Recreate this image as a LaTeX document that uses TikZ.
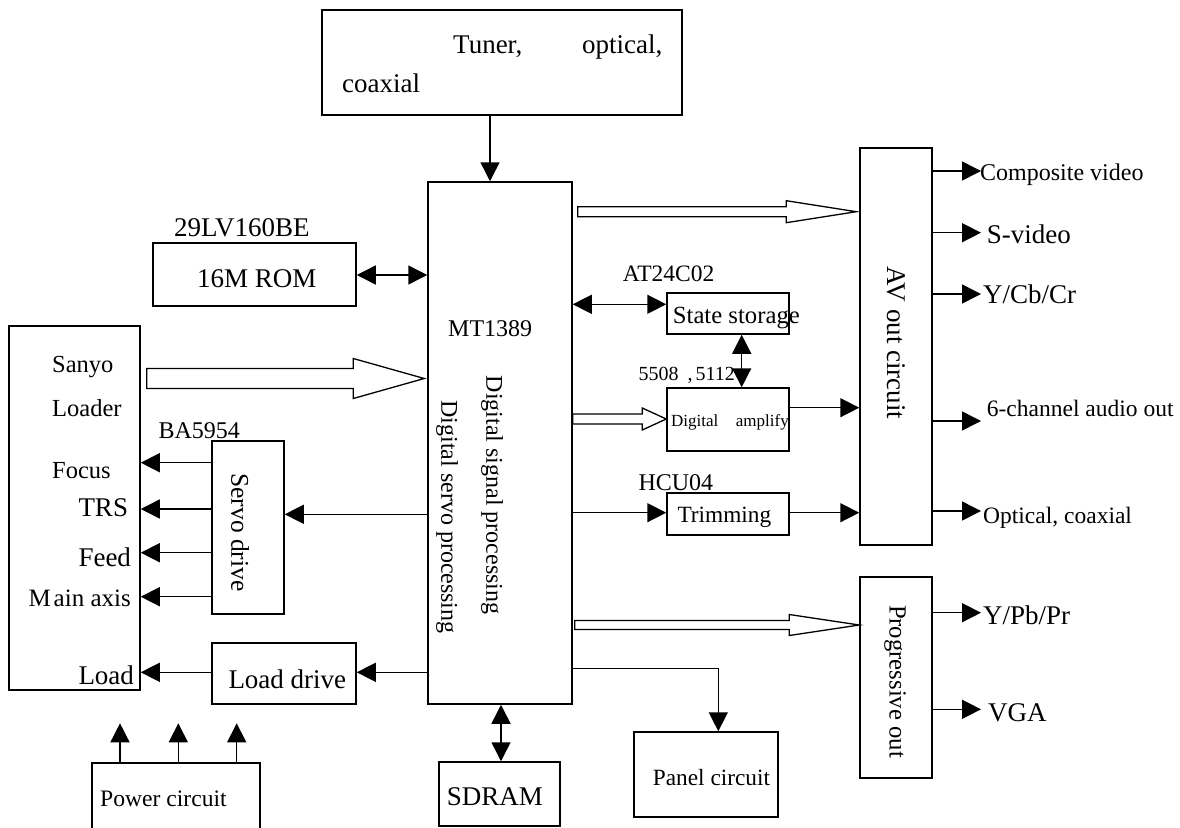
\documentclass[tikz,border=0pt]{standalone}
\usepackage{fontspec}
\setmainfont{Liberation Serif}
\usetikzlibrary{arrows.meta,calc}
\newcommand\fs[1]{\fontsize{#1}{#1}\selectfont}
% wide hollow arrow: start, tip, shaft half-width, head length, head half-width
\newcommand\hollowarrow[5]{%
  \draw[hollow] let \p1=(#1), \p2=(#2) in
    (\x1,\y1+#3pt) -- (\x2-#4pt,\y1+#3pt) -- (\x2-#4pt,\y1+#5pt) -- (\x2,\y1)
    -- (\x2-#4pt,\y1-#5pt) -- (\x2-#4pt,\y1-#3pt) -- (\x1,\y1-#3pt) -- cycle;}
\begin{document}
\begin{tikzpicture}[x=1pt,y=-1pt,
  box/.style={draw,line width=1.5pt,inner sep=0pt},
  txt/.style={inner sep=0pt,anchor=base west},
  vtxt/.style={inner sep=0pt,rotate=-90},
  arr/.style={line width=1.5pt,-{Triangle[length=19pt,width=19pt]}},
  darr/.style={line width=1.5pt,{Triangle[length=19pt,width=19pt]}-{Triangle[length=19pt,width=19pt]}},
  hollow/.style={draw,fill=white,line width=1.3pt,line join=miter}]
\useasboundingbox (0,0) rectangle (1180,827);
\fill[white] (0,0) rectangle (1180,827);
\clip (0,0) rectangle (1180,827);

% blocks
\node[box,minimum width=360pt,minimum height=105pt] (tuner) at (502,62.5) {};
\node[box,minimum width=144pt,minimum height=522pt] (mt) at (500,443) {};
\node[box,minimum width=203pt,minimum height=63pt] (rom) at (254.5,274.5) {};
\node[box,minimum width=131pt,minimum height=364pt] (sanyo) at (74.5,508) {};
\node[box,minimum width=72pt,minimum height=173pt] (servo) at (248,527.5) {};
\node[box,minimum width=144pt,minimum height=61pt] (ldrive) at (284,673.5) {};
\node[box,minimum width=168pt,minimum height=100pt] (power) at (176,813) {};
\node[box,minimum width=121pt,minimum height=64pt] (sdram) at (499.5,794) {};
\node[box,minimum width=144pt,minimum height=85pt] (panel) at (706,774.5) {};
\node[box,minimum width=122pt,minimum height=41pt] (state) at (728,313.5) {};
\node[box,minimum width=122pt,minimum height=63pt] (amp) at (728,419.5) {};
\node[box,minimum width=122pt,minimum height=42pt] (trim) at (728,514) {};
\node[box,minimum width=72pt,minimum height=397pt] (av) at (896,346.5) {};
\node[box,minimum width=72pt,minimum height=201pt] (prog) at (896,677.5) {};

% block texts
\node[txt,font=\fs{27}] (tuA) at (453,53) {Tuner,};
\node[txt,font=\fs{27}] (tuB) at (582,53) {optical,};
\node[txt,font=\fs{27}] (tuC) at (342,92) {coaxial};
\node[txt,font=\fs{24}] (mtname) at (448,336) {MT1389};
\node[vtxt,font=\fs{24}] (dsp) at (492,495) {Digital signal processing};
\node[vtxt,font=\fs{24}] (dservo) at (447,517) {Digital servo processing};
\node[txt,font=\fs{27}] (romtxt) at (197,287) {16M ROM};
\node[txt,font=\fs{27}] (romchip) at (174,236) {29LV160BE};
\node[txt,font=\fs{24.5}] (sa) at (52,372.7) {Sanyo};
\node[txt,font=\fs{24.5}] (lo) at (52,416.7) {Loader};
\node[txt,font=\fs{24.5}] (fo) at (52,478.3) {Focus};
\node[txt,font=\fs{27}] (trs) at (78.3,516.7) {TRS};
\node[txt,font=\fs{27}] (fe) at (78.3,566.7) {Feed};
\node[txt,font=\fs{25}] (ma) at (28.3,606.7) {M\kern3pt ain axis};
\node[txt,font=\fs{27}] (ld) at (78.3,684.3) {Load};
\node[txt,font=\fs{24}] (ba) at (158.3,438.3) {BA5954};
\node[vtxt,font=\fs{25.5}] (sdv) at (240,532.5) {Servo drive};
\node[txt,font=\fs{27}] (ldt) at (228.3,688.3) {Load drive};
\node[txt,font=\fs{23.6}] (pwt) at (100,806.7) {Power circuit};
\node[txt,font=\fs{27}] (sdt) at (446.7,805) {SDRAM};
\node[txt,font=\fs{23.3}] (pnt) at (652.7,785) {Panel circuit};
\node[txt,font=\fs{23.5}] (at) at (622.7,281.7) {AT24C02};
\node[txt,font=\fs{24.7}] (stt) at (672.7,323.3) {State storage};
\node[txt,font=\fs{20}] (chips) at (638.3,380) {5508\kern9pt,\kern3pt 5112};
\node[txt,font=\fs{17}] (ampA) at (671,426.7) {Digital};
\node[txt,font=\fs{17}] (ampB) at (735.7,426.7) {amplify};
\node[txt,font=\fs{24}] (hcu) at (638.3,490.7) {HCU04};
\node[txt,font=\fs{23.3}] (trt) at (677.3,522.3) {Trimming};
\node[vtxt,font=\fs{27}] (avt) at (896.7,343) {AV out circuit};
\node[vtxt,font=\fs{24.7}] (prt) at (895,681.5) {Progressive out};

% output labels
\node[txt,font=\fs{24}] (o1) at (980,180) {Composite video};
\node[txt,font=\fs{27}] (o2) at (986.7,243.3) {S-video};
\node[txt,font=\fs{27}] (o3) at (983,303.3) {Y/Cb/Cr};
\node[txt,font=\fs{23.5}] (o4) at (986.7,416.7) {6-channel audio out};
\node[txt,font=\fs{23.5}] (o5) at (983,523) {Optical, coaxial};
\node[txt,font=\fs{27}] (o6) at (983,624.3) {Y/Pb/Pr};
\node[txt,font=\fs{27}] (o7) at (988,721) {VGA};

% connector ends
\coordinate (e1) at (981,171);
\coordinate (e2) at (981,232.7);
\coordinate (e3) at (981,294);
\coordinate (e4) at (981,421);
\coordinate (e5) at (981,511);
\coordinate (e6) at (981,612.7);
\coordinate (e7) at (981,709.3);
\coordinate (pa) at (120,723.3);
\coordinate (pb) at (178.3,723.3);
\coordinate (pc) at (236.7,723.3);

% connectors
\draw[arr] (tuner.south -| 490,0) -- (mt.north -| 490,0);
\draw[darr] (rom.east |- 0,275) -- (mt.west |- 0,275);
\hollowarrow{$(sanyo.east |- 0,378.5)+(6,0)$}{$(mt.west |- 0,378.5)+(-3,0)$}{10}{71}{20}
\draw[arr] (mt.west |- 0,514.3) -- (servo.east |- 0,514.3);
\foreach \yy in {462.7,509,552.7,596.7}
  \draw[arr] (servo.west |- 0,\yy) -- (sanyo.east |- 0,\yy);
\draw[arr] (mt.west |- 0,672.3) -- (ldrive.east |- 0,672.3);
\draw[arr] (ldrive.west |- 0,672.3) -- (sanyo.east |- 0,672.3);
\foreach \n in {pa,pb,pc}
  \draw[arr] (power.north -| \n) -- (\n);
\draw[darr] (mt.south -| 501,0) -- (sdram.north -| 501,0);
\draw[arr] (mt.east |- 0,668.3) -| (panel.north -| 718.3,0);
\hollowarrow{$(mt.east |- 0,211.7)+(5,0)$}{$(av.west |- 0,211.7)+(-3,0)$}{5}{70}{11}
\draw[darr] (mt.east |- 0,304.3) -- (state.west |- 0,304.3);
\draw[darr] (state.south -| 741.7,0) -- (amp.north -| 741.7,0);
\hollowarrow{mt.east |- 0,419}{amp.west |- 0,419}{5}{24}{11}
\draw[arr] (amp.east |- 0,407.7) -- (av.west |- 0,407.7);
\draw[arr] (mt.east |- 0,512.7) -- (trim.west |- 0,512.7);
\draw[arr] (trim.east |- 0,512.7) -- (av.west |- 0,512.7);
\hollowarrow{$(mt.east |- 0,625)+(2,0)$}{prog.west |- 0,625}{4.5}{70}{10.5}
\foreach \n in {e1,e2,e3,e4,e5}
  \draw[arr] (av.east |- \n) -- (\n);
\foreach \n in {e6,e7}
  \draw[arr] (prog.east |- \n) -- (\n);
\end{tikzpicture}
\end{document}
